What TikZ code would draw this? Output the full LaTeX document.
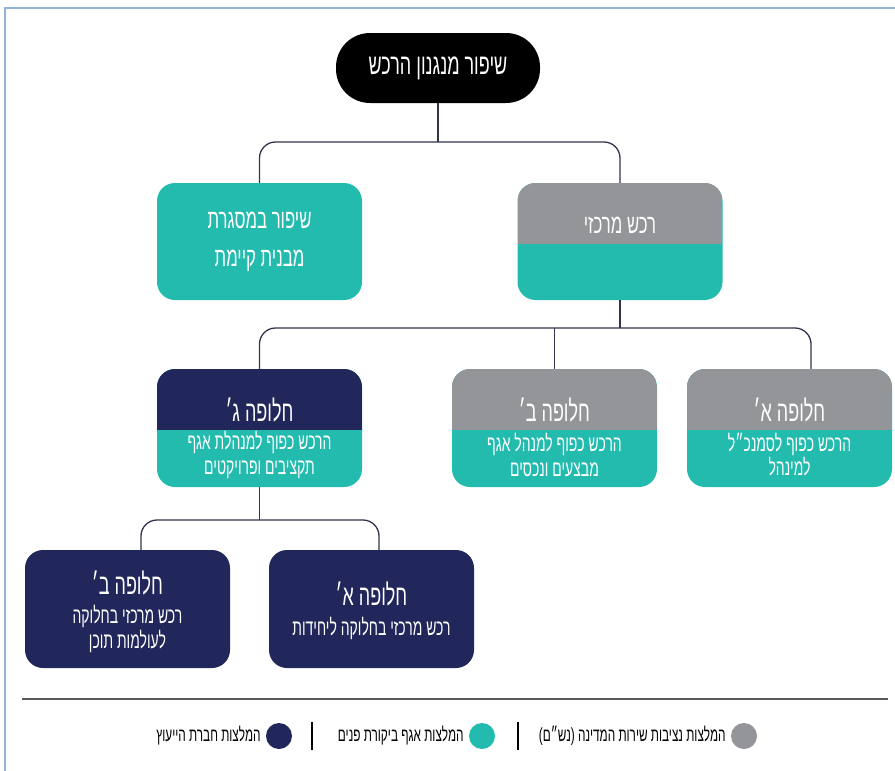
\documentclass[tikz,border=0pt]{standalone}
\usepackage{fontspec}
\usepackage{tikz}
\usetikzlibrary{positioning}
\TeXXeTstate=1
\newfontfamily\hebfont[Script=Hebrew,FakeStretch=0.62]{Liberation Sans}
\newcommand\heb[1]{\beginR#1\endR}

\definecolor{boxteal}{RGB}{34,187,174}
\definecolor{boxgray}{RGB}{147,149,152}
\definecolor{boxnavy}{RGB}{33,39,90}
\definecolor{framblue}{RGB}{143,180,216}
\definecolor{connline}{RGB}{50,52,75}
\definecolor{rulegray}{RGB}{90,90,90}

\tikzset{
  box/.style={rounded corners=18pt, minimum width=205pt, minimum height=117pt, inner sep=0pt},
  twotone/.style={path picture={\fill[#1, sharp corners] (path picture bounding box.north west) rectangle ([yshift=-61pt]path picture bounding box.north east);}},
  conn/.style={draw=connline, line width=1.3pt, rounded corners=16pt},
  bigtext/.style={text=white, align=center, font={\hebfont\fontsize{27}{38}\selectfont}},
  titletext/.style={text=white, font={\hebfont\fontsize{29}{32}\selectfont}},
  bodytext/.style={text=white, align=center, font={\hebfont\fontsize{22.5}{24.5}\selectfont}},
  legdot/.style={circle, minimum size=26pt, inner sep=0pt},
  legtext/.style={text=black, font={\hebfont\fontsize{19}{20}\selectfont}, inner sep=0pt}
}

\begin{document}
\begin{tikzpicture}[x=1pt, y=-1pt]

  \useasboundingbox (0,0) rectangle (895,771);
  \draw[framblue, line width=2.5pt] (5,771) -- (5,8) -- (895,8);

  % top
  \node[fill=black, rounded corners=34pt, minimum width=204pt, minimum height=70pt] (top) at (438,68) {};
  \node[text=white, font={\hebfont\fontsize{29}{32}\selectfont}] (topt) at (top) {\heb{שיפור מנגנון הרכש}};

  % first level
  \node[box, fill=boxteal] (ext) at (259.5,241.5) {};
  \node[box, fill=boxteal, twotone=boxgray] (cen) at (620,241.5) {};
  \node[bigtext] (extt) at (ext) {\heb{שיפור במסגרת}\\\heb{מבנית קיימת}};
  \node[bigtext] (cent) at ([yshift=-43pt]cen.north) {\heb{רכש מרכזי}};

  % alternatives
  \node[box, minimum height=118pt, fill=boxteal, twotone=boxnavy] (altC) at (259.5,428) {};
  \node[box, minimum height=118pt, fill=boxteal, twotone=boxgray] (altB) at (554.5,428) {};
  \node[box, minimum height=118pt, fill=boxteal, twotone=boxgray] (altA) at (789.5,428) {};

  \node[titletext] (altCt) at ([yshift=-41pt]altC.north) {\heb{חלופה ג׳}};
  \node[titletext] (altBt) at ([yshift=-41pt]altB.north) {\heb{חלופה ב׳}};
  \node[titletext] (altAt) at ([yshift=-41pt]altA.north) {\heb{חלופה א׳}};
  \node[bodytext] (altCb) at ([yshift=-86pt]altC.north) {\heb{הרכש כפוף למנהלת אגף}\\\heb{תקציבים ופרויקטים}};
  \node[bodytext] (altBb) at ([yshift=-86pt]altB.north) {\heb{הרכש כפוף למנהל אגף}\\\heb{מבצעים ונכסים}};
  \node[bodytext] (altAb) at ([yshift=-86pt]altA.north) {\heb{הרכש כפוף לסמנכ״ל}\\\heb{למינהל}};

  % sub alternatives
  \node[box, minimum height=118pt, fill=boxnavy] (subB) at (127.5,609) {};
  \node[box, minimum height=118pt, fill=boxnavy] (subA) at (371.5,609) {};

  \node[titletext] (subBt) at ([yshift=-33pt]subB.north) {\heb{חלופה ב׳}};
  \node[titletext] (subAt) at ([yshift=-44pt]subA.north) {\heb{חלופה א׳}};
  \node[bodytext] (subBb) at ([yshift=-79pt]subB.north) {\heb{רכש מרכזי בחלוקה}\\\heb{לעולמות תוכן}};
  \node[bodytext] (subAb) at ([yshift=-79pt]subA.north) {\heb{רכש מרכזי בחלוקה ליחידות}};

  % connectors
  \coordinate (j1) at (438,142);
  \coordinate (j2) at (620,328);
  \coordinate (j3) at (259.5,520);
  \draw[conn] (top.south) -- (j1);
  \draw[conn] (ext.north) |- (j1) -| (cen.north);
  \draw[conn] (cen.south) -- (j2);
  \draw[conn] (altC.north) |- (j2) -| ([xshift=21.5pt]altA.north);
  \draw[conn] (altB.north) -- (altB.north |- j2);
  \draw[conn] (altC.south) -- (j3);
  \draw[conn] ([xshift=13.5pt]subB.north) |- (j3) -| ([xshift=7.5pt]subA.north);

  % legend
  \draw[rulegray, line width=2.5pt] (22,699) -- (888,699);

  \node[legdot, fill=boxgray] (lgG) at (744,736) {};
  \node[legdot, fill=boxteal] (lgT) at (482,736) {};
  \node[legdot, fill=boxnavy] (lgN) at (279,736) {};
  \node[legtext, left=5pt of lgG] (lgGt) {\heb{המלצות נציבות שירות המדינה (נש״ם)}};
  \node[legtext, left=5pt of lgT] (lgTt) {\heb{המלצות אגף ביקורת פנים}};
  \node[legtext, left=5pt of lgN] (lgNt) {\heb{המלצות חברת הייעוץ}};
  \draw[black, line width=1.2pt] (518,722) -- (518,750);
  \draw[black, line width=1.2pt] (312,722) -- (312,750);

\end{tikzpicture}
\end{document}
